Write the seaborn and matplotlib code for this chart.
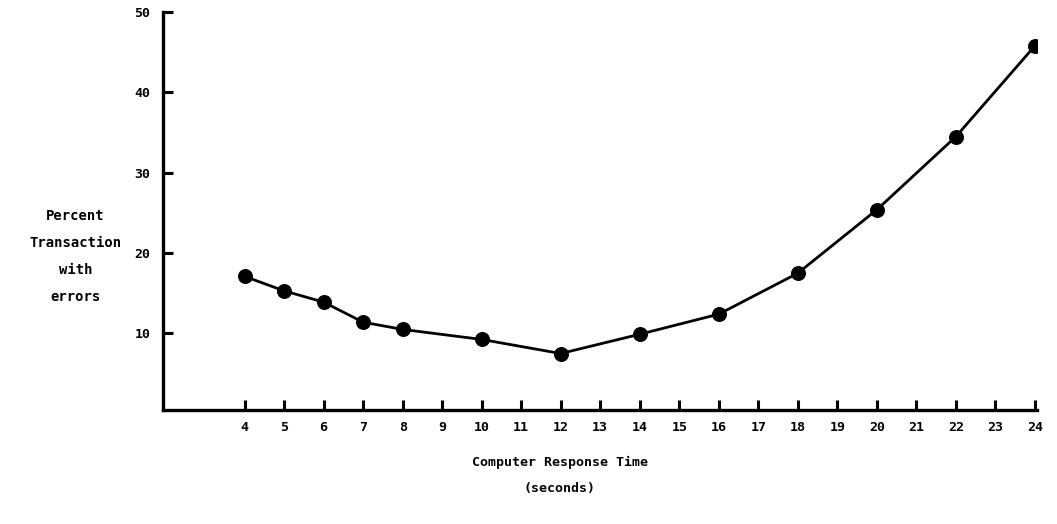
import pandas as pd
import matplotlib
matplotlib.use('Agg')
import matplotlib.pyplot as plt
import seaborn as sns

# Data
response_time = [4, 5, 6, 7, 8, 10, 12, 14, 16, 18, 20, 22, 24]
pct_errors = [17.1, 15.3, 13.9, 11.4, 10.5, 9.25, 7.5, 9.9, 12.4, 17.5, 25.4, 34.5, 45.8]
x_ticks = list(range(4, 25))
y_ticks = [10, 20, 30, 40, 50]

df = pd.DataFrame({'time': response_time, 'errors': pct_errors})

sns.set_style('white')
plt.rcParams['font.family'] = ['DejaVu Sans Mono', 'DejaVu Sans']
plt.rcParams['font.weight'] = 'bold'
plt.rcParams['text.color'] = 'black'

fig = plt.figure(figsize=(10.57, 5.24), dpi=100)
ax = fig.add_axes([0.154, 0.218, 0.827, 0.759])

sns.lineplot(data=df, x='time', y='errors', ax=ax, color='black', linewidth=2,
             marker='o', markersize=10, markeredgecolor='black', markerfacecolor='black')

ax.set_xlim(1.93, 24.05)
ax.set_ylim(0.5, 50)
ax.set_xticks(x_ticks)
ax.set_yticks(y_ticks)
ax.tick_params(axis='both', which='major', bottom=True, left=True, direction='in',
               length=7, width=2.2, labelsize=9.5, colors='black')
ax.tick_params(axis='x', pad=8)
ax.tick_params(axis='y', pad=9)
for lab in ax.get_xticklabels() + ax.get_yticklabels():
    lab.set_fontweight('bold')

sns.despine(ax=ax)
for side in ['left', 'bottom']:
    ax.spines[side].set_linewidth(2.4)
    ax.spines[side].set_color('black')

ax.set_xlabel('Computer Response Time\n(seconds)', fontsize=9.5, fontweight='bold',
              linespacing=2.3, color='black', va='center')
ax.xaxis.set_label_coords(0.454, -0.165)
ax.set_ylabel('Percent\nTransaction\nwith\nerrors', fontsize=10, fontweight='bold', color='black',
              rotation=0, linespacing=2.2, ha='center', va='center')
ax.yaxis.set_label_coords(-0.1, 0.385)

fig.savefig('out.png', dpi=100)
